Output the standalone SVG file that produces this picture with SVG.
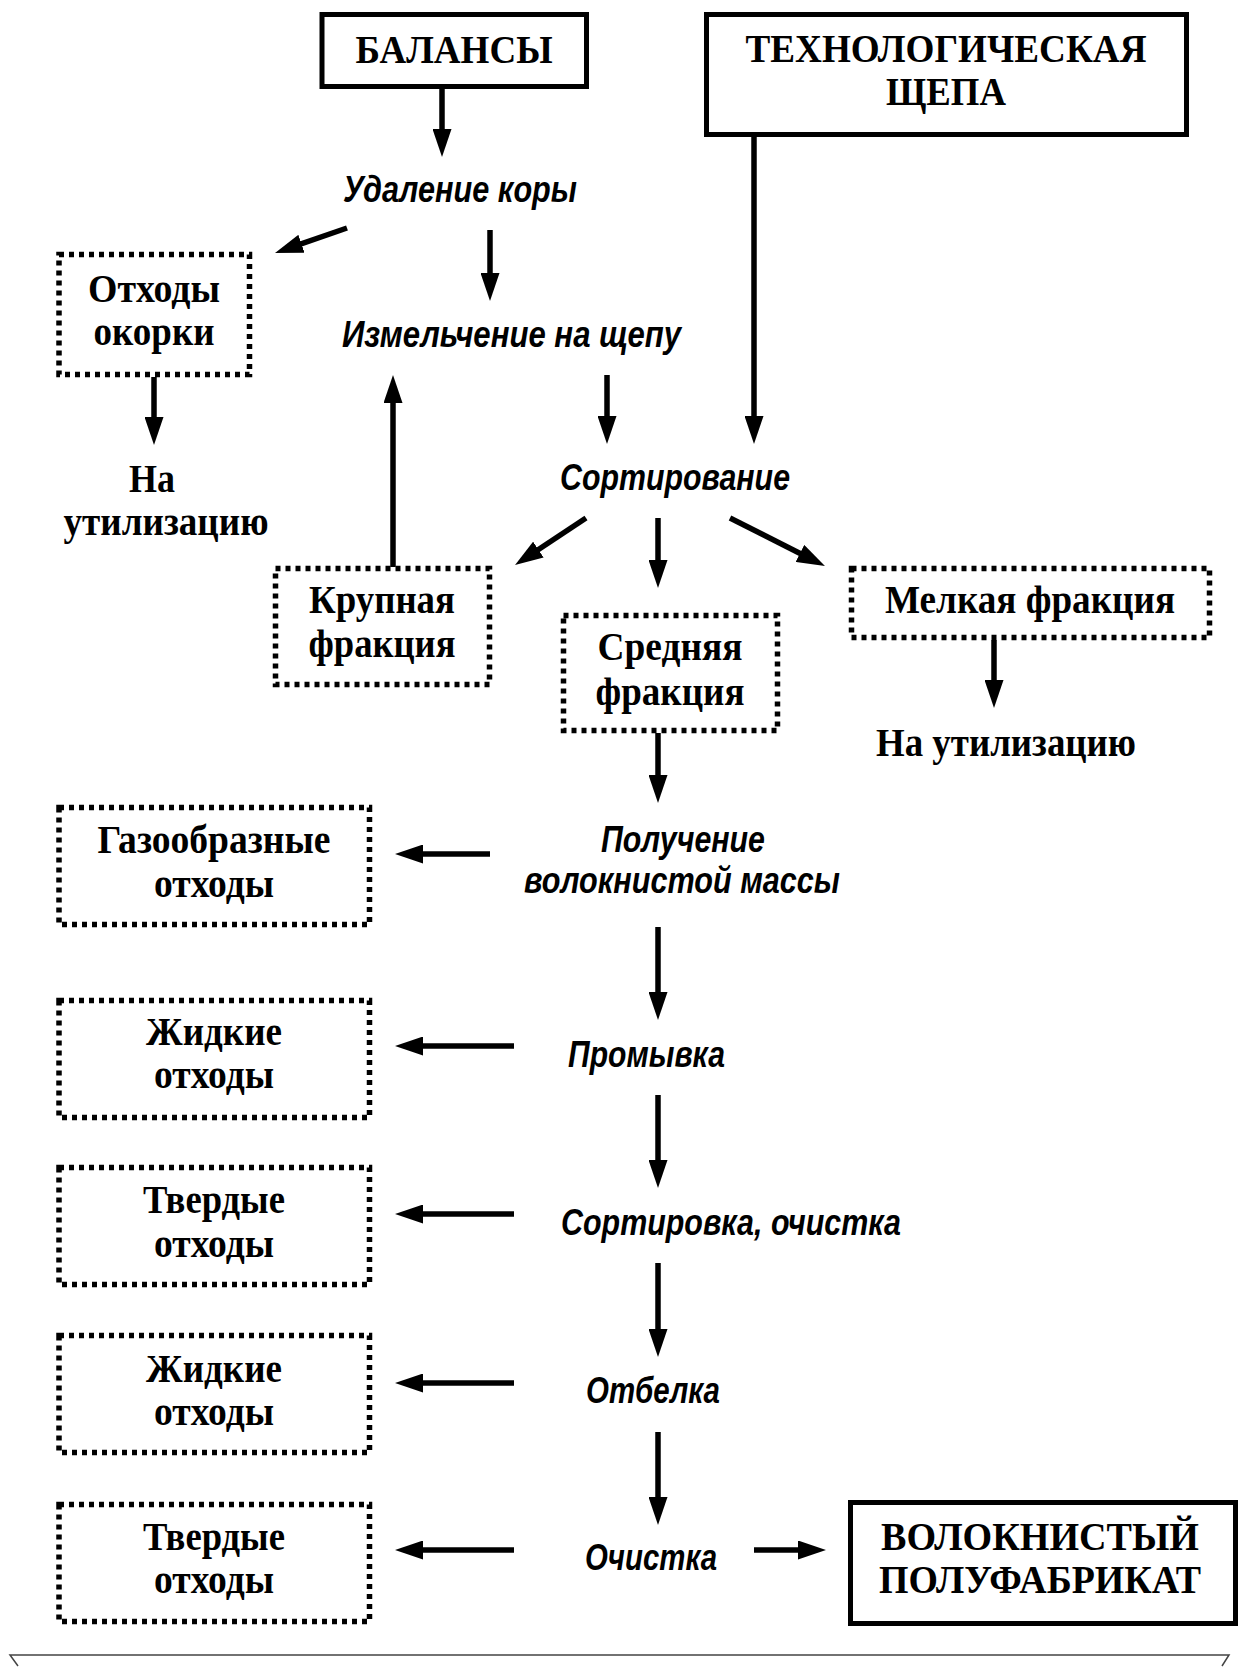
<svg xmlns="http://www.w3.org/2000/svg" width="1239" height="1668" viewBox="0 0 1239 1668">
<style>
.bg{fill:#fff}
.solid{fill:#fff;stroke:#000;stroke-width:5}
.dot{fill:#fff;stroke:#000;stroke-width:5.5;stroke-dasharray:5 5}
.t{font-family:"Liberation Serif","Times New Roman",serif;font-weight:bold;font-size:40px;fill:#000;text-anchor:middle}
.tt{font-family:"Liberation Serif","Times New Roman",serif;font-weight:bold;font-size:41px;fill:#000;text-anchor:middle}
.p{font-family:"Liberation Sans",Arial,sans-serif;font-weight:bold;font-style:italic;font-size:37px;fill:#000;text-anchor:middle}
.c{fill:none;stroke:#000;stroke-width:5.5;marker-end:url(#ah)}
</style>
<defs>
<marker id="ah" markerUnits="userSpaceOnUse" markerWidth="29" markerHeight="19" refX="8" refY="9.5" orient="auto">
<path d="M0,0 L28,9.5 L0,19 Z" fill="#000"/>
</marker>
</defs>
<rect class="bg" x="0" y="0" width="1239" height="1668"/>

<g id="connectors">
<line class="c" x1="442" y1="89" x2="442" y2="137"/>
<line class="c" x1="347" y1="228" x2="293.9" y2="246.4"/>
<line class="c" x1="490" y1="230" x2="490" y2="281"/>
<line class="c" x1="607" y1="375" x2="607" y2="424"/>
<line class="c" x1="754" y1="137" x2="754" y2="424"/>
<line class="c" x1="154" y1="377" x2="154" y2="425"/>
<line class="c" x1="393" y1="567" x2="393" y2="395"/>
<line class="c" x1="586" y1="518" x2="531.7" y2="554"/>
<line class="c" x1="658" y1="518" x2="658" y2="568"/>
<line class="c" x1="730" y1="518" x2="807.1" y2="557"/>
<line class="c" x1="994" y1="640" x2="994" y2="688"/>
<line class="c" x1="658" y1="733" x2="658" y2="783"/>
<line class="c" x1="490" y1="854" x2="415" y2="854"/>
<line class="c" x1="658" y1="927" x2="658" y2="1000"/>
<line class="c" x1="514" y1="1046" x2="415" y2="1046"/>
<line class="c" x1="658" y1="1095" x2="658" y2="1168"/>
<line class="c" x1="514" y1="1214" x2="415" y2="1214"/>
<line class="c" x1="658" y1="1263" x2="658" y2="1337"/>
<line class="c" x1="514" y1="1383" x2="415" y2="1383"/>
<line class="c" x1="658" y1="1432" x2="658" y2="1505"/>
<line class="c" x1="514" y1="1550" x2="415" y2="1550"/>
<line class="c" x1="754" y1="1550" x2="806" y2="1550"/>
</g>

<g id="balansy">
<rect class="solid" x="322" y="14.5" width="264.5" height="72"/>
<text class="tt" x="454" y="63" textLength="197" lengthAdjust="spacingAndGlyphs">БАЛАНСЫ</text>
</g>
<g id="tech-shchepa">
<rect class="solid" x="706.5" y="14.5" width="480" height="120"/>
<text class="tt" x="946" y="62" textLength="401" lengthAdjust="spacingAndGlyphs">ТЕХНОЛОГИЧЕСКАЯ</text>
<text class="tt" x="946" y="105" textLength="120" lengthAdjust="spacingAndGlyphs">ЩЕПА</text>
</g>
<g id="udalenie">
<text class="p" x="460" y="202" textLength="234" lengthAdjust="spacingAndGlyphs">Удаление коры</text>
</g>
<g id="othody-okorki">
<rect class="dot" x="59" y="254.5" width="190.5" height="120"/>
<text class="t" x="154" y="302" textLength="132" lengthAdjust="spacingAndGlyphs">Отходы</text>
<text class="t" x="154" y="345" textLength="121" lengthAdjust="spacingAndGlyphs">окорки</text>
</g>
<g id="izmelchenie">
<text class="p" x="511.5" y="347" textLength="339" lengthAdjust="spacingAndGlyphs">Измельчение на щепу</text>
</g>
<g id="na-util-1">
<text class="t" x="152" y="492" textLength="46" lengthAdjust="spacingAndGlyphs">На</text>
<text class="t" x="166" y="535" textLength="205" lengthAdjust="spacingAndGlyphs">утилизацию</text>
</g>
<g id="sortirovanie">
<text class="p" x="675" y="490" textLength="230" lengthAdjust="spacingAndGlyphs">Сортирование</text>
</g>
<g id="krupnaya">
<rect class="dot" x="275.5" y="568.5" width="214" height="116"/>
<text class="t" x="382" y="613" textLength="146" lengthAdjust="spacingAndGlyphs">Крупная</text>
<text class="t" x="382" y="657" textLength="147" lengthAdjust="spacingAndGlyphs">фракция</text>
</g>
<g id="srednyaya">
<rect class="dot" x="563.5" y="615.5" width="214" height="115"/>
<text class="t" x="670" y="660" textLength="145" lengthAdjust="spacingAndGlyphs">Средняя</text>
<text class="t" x="670" y="705" textLength="149" lengthAdjust="spacingAndGlyphs">фракция</text>
</g>
<g id="melkaya">
<rect class="dot" x="851.5" y="568.5" width="358" height="69"/>
<text class="t" x="1030" y="613" textLength="290" lengthAdjust="spacingAndGlyphs">Мелкая фракция</text>
</g>
<g id="na-util-2">
<text class="t" x="1006" y="756" textLength="260" lengthAdjust="spacingAndGlyphs">На утилизацию</text>
</g>
<g id="poluchenie">
<text class="p" x="683" y="852" textLength="164" lengthAdjust="spacingAndGlyphs">Получение</text>
<text class="p" x="682" y="893" textLength="316" lengthAdjust="spacingAndGlyphs">волокнистой массы</text>
</g>
<g id="gaz-othody">
<rect class="dot" x="59" y="807.5" width="310.5" height="117"/>
<text class="t" x="214" y="853" textLength="233" lengthAdjust="spacingAndGlyphs">Газообразные</text>
<text class="t" x="214" y="897" textLength="120" lengthAdjust="spacingAndGlyphs">отходы</text>
</g>
<g id="promyvka">
<text class="p" x="646.5" y="1067" textLength="157" lengthAdjust="spacingAndGlyphs">Промывка</text>
</g>
<g id="zhidkie-1">
<rect class="dot" x="59" y="1000.5" width="310.5" height="117"/>
<text class="t" x="214" y="1045" textLength="136" lengthAdjust="spacingAndGlyphs">Жидкие</text>
<text class="t" x="214" y="1088" textLength="120" lengthAdjust="spacingAndGlyphs">отходы</text>
</g>
<g id="sortirovka">
<text class="p" x="731" y="1235" textLength="340" lengthAdjust="spacingAndGlyphs">Сортировка, очистка</text>
</g>
<g id="tverdye-1">
<rect class="dot" x="59" y="1167.5" width="310.5" height="117"/>
<text class="t" x="214" y="1213" textLength="142" lengthAdjust="spacingAndGlyphs">Твердые</text>
<text class="t" x="214" y="1257" textLength="120" lengthAdjust="spacingAndGlyphs">отходы</text>
</g>
<g id="otbelka">
<text class="p" x="653" y="1403" textLength="134" lengthAdjust="spacingAndGlyphs">Отбелка</text>
</g>
<g id="zhidkie-2">
<rect class="dot" x="59" y="1335.5" width="310.5" height="117"/>
<text class="t" x="214" y="1382" textLength="136" lengthAdjust="spacingAndGlyphs">Жидкие</text>
<text class="t" x="214" y="1425" textLength="120" lengthAdjust="spacingAndGlyphs">отходы</text>
</g>
<g id="ochistka">
<text class="p" x="651" y="1570" textLength="132" lengthAdjust="spacingAndGlyphs">Очистка</text>
</g>
<g id="tverdye-2">
<rect class="dot" x="59" y="1504.5" width="310.5" height="117"/>
<text class="t" x="214" y="1550" textLength="142" lengthAdjust="spacingAndGlyphs">Твердые</text>
<text class="t" x="214" y="1593" textLength="120" lengthAdjust="spacingAndGlyphs">отходы</text>
</g>
<g id="volokn-polufabrikat">
<rect class="solid" x="850.5" y="1502.5" width="385" height="121"/>
<text class="tt" x="1040" y="1550" textLength="318" lengthAdjust="spacingAndGlyphs">ВОЛОКНИСТЫЙ</text>
<text class="tt" x="1040" y="1593" textLength="322" lengthAdjust="spacingAndGlyphs">ПОЛУФАБРИКАТ</text>
</g>
<polyline points="18,1666 10,1655 1229,1655 1222,1666" fill="none" stroke="#444" stroke-width="1.5"/>
</svg>
